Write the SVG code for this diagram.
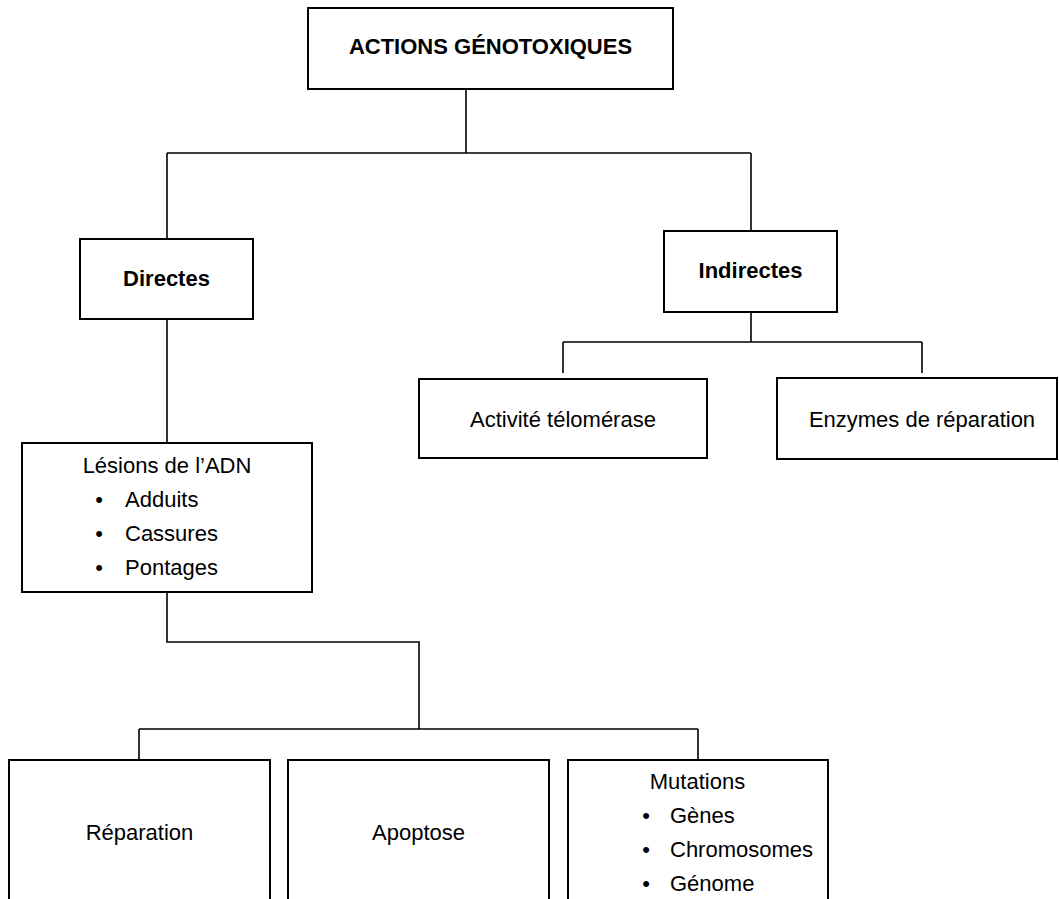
<svg xmlns="http://www.w3.org/2000/svg" width="1059" height="899" viewBox="0 0 1059 899">
<style>
.box{fill:#fff;stroke:#000;stroke-width:2}
.ln{fill:none;stroke:#000;stroke-width:1.6}
text{font-family:"Liberation Sans",Arial,sans-serif;font-size:22px;fill:#000}
.b{font-weight:bold}
.c{text-anchor:middle}
</style>
<rect width="1059" height="899" fill="#fff"/>
<g id="connectors">
<path class="ln" d="M466 89V153M167 153H751M167 153V239M751 153V231"/>
<path class="ln" d="M751 312V342M563 342H922M563 342V373M922 342V373"/>
<path class="ln" d="M167 319V443"/>
<path class="ln" d="M167 592V642H419V729M139 729H698M139 729V760M698 729V760"/>
</g>
<g id="n-actions"><rect class="box" x="308" y="8" width="365" height="81"/><text class="b c" x="490.5" y="54">ACTIONS GÉNOTOXIQUES</text></g>
<g id="n-directes"><rect class="box" x="80" y="239" width="173" height="80"/><text class="b c" x="166.5" y="286">Directes</text></g>
<g id="n-indirectes"><rect class="box" x="664" y="231" width="173" height="81"/><text class="b c" x="750.5" y="278">Indirectes</text></g>
<g id="n-telomerase"><rect class="box" x="419" y="379" width="288" height="79"/><text class="c" x="563" y="427">Activité télomérase</text></g>
<g id="n-enzymes"><rect class="box" x="777" y="378" width="280" height="81"/><text class="c" x="922" y="427">Enzymes de réparation</text></g>
<g id="n-lesions"><rect class="box" x="22" y="443" width="290" height="149"/>
<text class="c" x="167" y="473">Lésions de l’ADN</text>
<text class="c" x="99" y="507">•</text><text x="125" y="507">Adduits</text>
<text class="c" x="99" y="541">•</text><text x="125" y="541">Cassures</text>
<text class="c" x="99" y="575">•</text><text x="125" y="575">Pontages</text></g>
<g id="n-reparation"><rect class="box" x="9" y="760" width="261" height="160"/><text class="c" x="139.5" y="840">Réparation</text></g>
<g id="n-apoptose"><rect class="box" x="288" y="760" width="261" height="160"/><text class="c" x="418.5" y="840">Apoptose</text></g>
<g id="n-mutations"><rect class="box" x="568" y="760" width="260" height="160"/>
<text class="c" x="697.5" y="789">Mutations</text>
<text class="c" x="646" y="823">•</text><text x="670" y="823">Gènes</text>
<text class="c" x="646" y="857">•</text><text x="670" y="857">Chromosomes</text>
<text class="c" x="646" y="891">•</text><text x="670" y="891">Génome</text></g>
</svg>
